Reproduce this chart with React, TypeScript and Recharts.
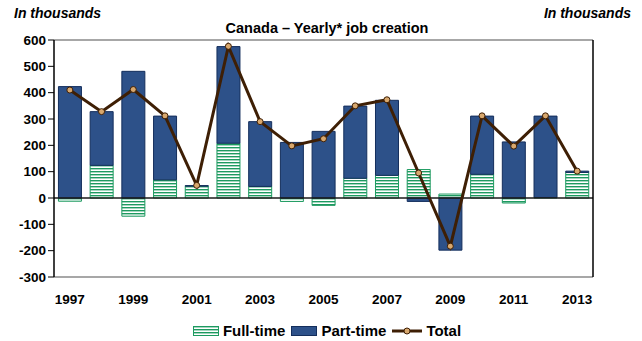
import {
  Bar,
  ComposedChart,
  Legend,
  Line,
  ReferenceLine,
  XAxis,
  YAxis,
} from "recharts";

const YEARS = [
  "1997", "1998", "1999", "2000", "2001", "2002", "2003", "2004", "2005",
  "2006", "2007", "2008", "2009", "2010", "2011", "2012", "2013",
];
const FULL_TIME = [-12, 124, -69, 69, 45, 208, 44, -13, -28, 75, 86, 108, 15, 90, -19, 2, 97];
const PART_TIME = [423, 204, 481, 242, 2, 367, 246, 211, 253, 274, 285, -13, -198, 221, 213, 309, 5];
const TOTAL = [410, 328, 412, 312, 48, 576, 290, 198, 225, 350, 373, 95, -183, 312, 197, 312, 102];
const Y_TICKS = [-300, -200, -100, 0, 100, 200, 300, 400, 500, 600];

const BLUE = "#2d5189";
const NAVY = "#142e5c";
const GREEN = "#1d9a60";
const BROWN = "#3e1f05";
const DOT = "#d8a86e";
const FONT = "'Liberation Sans', Arial, sans-serif";

const data = YEARS.map((year, i) => ({
  year,
  ft: FULL_TIME[i],
  pt: PART_TIME[i],
  total: TOTAL[i],
}));

const tickStyle = { fill: "#000", fontSize: 13.5, fontWeight: 700, fontFamily: FONT };

function LegendBox() {
  const item = { display: "flex", alignItems: "center", gap: 4 } as const;
  return (
    <div
      style={{
        display: "flex",
        justifyContent: "center",
        gap: 6,
        paddingTop: 25,
        paddingLeft: 12,
        fontFamily: FONT,
        fontSize: 15,
        fontWeight: 700,
        color: "#000",
      }}
    >
      <span style={item}>
        <svg width={26} height={10}>
          <rect x={0.5} y={0.5} width={25} height={9} fill="url(#ftStripes)" stroke={GREEN} />
        </svg>
        Full-time
      </span>
      <span style={item}>
        <svg width={26} height={10}>
          <rect x={0.5} y={0.5} width={25} height={9} fill={BLUE} stroke={NAVY} />
        </svg>
        Part-time
      </span>
      <span style={item}>
        <svg width={30} height={10}>
          <line x1={0} y1={5} x2={30} y2={5} stroke={BROWN} strokeWidth={3} />
          <circle cx={15} cy={5} r={3} fill={DOT} stroke={BROWN} strokeWidth={1} />
        </svg>
        Total
      </span>
    </div>
  );
}

export default function App() {
  const head = { position: "absolute", fontFamily: FONT, fontSize: 14, fontWeight: 700 } as const;
  return (
    <div style={{ position: "absolute", left: 0, top: 0, width: 642, height: 341, background: "#fff" }}>
      <div style={{ ...head, left: 14, top: 5, fontStyle: "italic" }}>In thousands</div>
      <div style={{ ...head, right: 11, top: 5, fontStyle: "italic" }}>In thousands</div>
      <div style={{ ...head, left: 6, width: 642, top: 20, textAlign: "center", fontSize: 14.5 }}>
        Canada – Yearly* job creation
      </div>
      <ComposedChart
        width={642}
        height={341}
        data={data}
        stackOffset="sign"
        barCategoryGap="14%"
        margin={{ top: 40, right: 8, left: 8, bottom: 0 }}
      >
        <defs>
          <pattern id="ftStripes" patternUnits="userSpaceOnUse" width={6} height={3}>
            <rect width={6} height={3} fill="#fff" />
            <rect width={6} height={1.4} fill={GREEN} />
          </pattern>
        </defs>
        <XAxis
          dataKey="year"
          interval={1}
          tick={tickStyle}
          tickLine={false}
          tickMargin={11}
          axisLine={{ stroke: "#8a8a8a", strokeWidth: 1.5 }}
          height={20}
        />
        <YAxis
          yAxisId="left"
          domain={[-300, 600]}
          ticks={Y_TICKS}
          interval={0}
          width={46}
          tick={tickStyle}
          tickSize={6}
          tickMargin={2}
          axisLine={{ stroke: "#000", strokeWidth: 1.5 }}
          tickLine={{ stroke: "#000" }}
        />
        <YAxis
          yAxisId="right"
          orientation="right"
          domain={[-300, 600]}
          ticks={Y_TICKS}
          interval={0}
          width={41}
          tick={{ ...tickStyle, textAnchor: "start" }}
          tickSize={4}
          tickMargin={2}
          axisLine={{ stroke: "#000", strokeWidth: 1.5 }}
          tickLine={{ stroke: "#000" }}
        />
        <ReferenceLine yAxisId="left" y={600} stroke="#8a8a8a" strokeWidth={1.5} />
        <Bar yAxisId="left" dataKey="ft" name="Full-time" stackId="a" fill="url(#ftStripes)" stroke={GREEN} strokeWidth={1} isAnimationActive={false} />
        <Bar yAxisId="left" dataKey="pt" name="Part-time" stackId="a" fill={BLUE} stroke={NAVY} strokeWidth={1} isAnimationActive={false} />
        <ReferenceLine yAxisId="left" y={0} stroke="#1a1a1a" strokeWidth={1.5} />
        <Line
          yAxisId="left"
          dataKey="total"
          name="Total"
          stroke={BROWN}
          strokeWidth={3}
          dot={{ r: 3, fill: DOT, stroke: BROWN, strokeWidth: 1 }}
          activeDot={false}
          isAnimationActive={false}
        />
        <Legend verticalAlign="bottom" height={44} content={() => <LegendBox />} />
      </ComposedChart>
    </div>
  );
}
